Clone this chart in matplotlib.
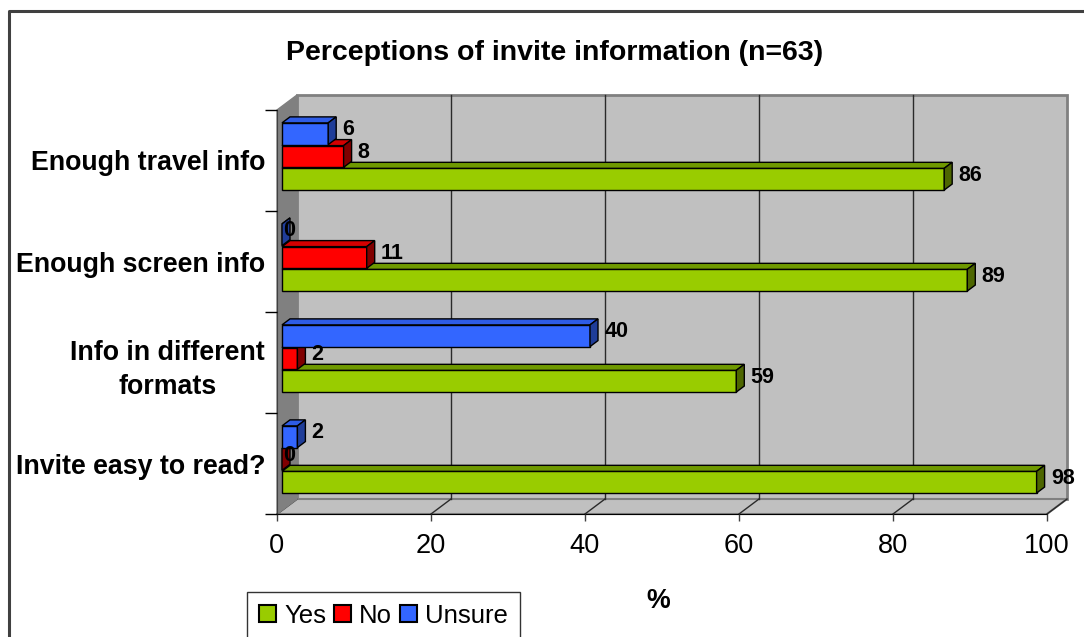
import matplotlib
matplotlib.use("Agg")
import matplotlib.pyplot as plt
from matplotlib.patches import Polygon, Patch
from matplotlib.lines import Line2D

plt.rcParams['font.family'] = ['Liberation Sans', 'DejaVu Sans']

categories = ["Invite easy to read?", "Info in different\nformats",
              "Enough screen info", "Enough travel info"]
series_names = ["Yes", "No", "Unsure"]
yes_vals = [98, 59, 89, 86]
no_vals = [0, 2, 11, 8]
unsure_vals = [2, 40, 0, 6]
xticks = [0, 20, 40, 60, 80, 100]
title = "Perceptions of invite information (n=63)"

front_cols = ["#99CC00", "#FF0000", "#3366FF"]
top_cols = ["#6F9900", "#D40000", "#2E5CE6"]
side_cols = ["#4D6600", "#800000", "#1F3D99"]
offsets = [-0.185, 0.04, 0.265]
bar_h = 0.215

W, H = 1084, 637
fig = plt.figure(figsize=(W / 100, H / 100), dpi=100)
ax = fig.add_axes([277 / W, (H - 514) / H, 770 / W, 404 / H])
ax.set_xlim(0, 100)
ax.set_ylim(-0.5, 3.5)
ax.set_facecolor("none")

# wall geometry in data units
wdx, wdy = 20 / 7.7, 15 / 101
ymin, ymax = -0.5, 3.5

# back wall
ax.add_patch(Polygon([(wdx, ymin + wdy), (100 + wdx, ymin + wdy),
                      (100 + wdx, ymax + wdy), (wdx, ymax + wdy)],
                     closed=True, facecolor="#C0C0C0", edgecolor="#808080",
                     lw=2, clip_on=False, zorder=0.5))
# floor
ax.add_patch(Polygon([(0, ymin), (100, ymin), (100 + wdx, ymin + wdy), (wdx, ymin + wdy)],
                     closed=True, facecolor="#C0C0C0", edgecolor="#808080",
                     lw=1.5, clip_on=False, zorder=0.6))
# gridlines on back wall and floor
for t in xticks[1:-1]:
    ax.plot([t + wdx, t + wdx], [ymin + wdy, ymax + wdy], color="#2A2A2A", lw=1,
            clip_on=False, zorder=0.7)
for t in xticks:
    ax.plot([t, t + wdx], [ymin, ymin + wdy], color="#2A2A2A", lw=1,
            clip_on=False, zorder=0.7)
# left wall
ax.add_patch(Polygon([(0, ymin), (wdx, ymin + wdy), (wdx, ymax + wdy), (0, ymax)],
                     closed=True, facecolor="#808080", edgecolor="#808080",
                     lw=1, clip_on=False, zorder=0.8))

# bars
x0 = 5 / 7.7
bdx, bdy = 8 / 7.7, 6 / 101
all_vals = [yes_vals, no_vals, unsure_vals]
for s, vals in enumerate(all_vals):
    ys = [i + offsets[s] for i in range(len(categories))]
    ax.barh(ys, vals, height=bar_h, left=x0, color=front_cols[s],
            edgecolor="black", lw=1, zorder=3 + s, clip_on=False)
    for y, v in zip(ys, vals):
        yt, yb = y + bar_h / 2, y - bar_h / 2
        ax.add_patch(Polygon([(x0, yt), (x0 + v, yt), (x0 + v + bdx, yt + bdy), (x0 + bdx, yt + bdy)],
                             closed=True, facecolor=top_cols[s], edgecolor="black",
                             lw=1, zorder=3 + s, clip_on=False))
        ax.add_patch(Polygon([(x0 + v, yb), (x0 + v + bdx, yb + bdy), (x0 + v + bdx, yt + bdy), (x0 + v, yt)],
                             closed=True, facecolor=side_cols[s], edgecolor="black",
                             lw=1, zorder=3 + s, clip_on=False))
        lx = x0 + v + bdx + 0.8 if v > 0 else x0 + 0.2
        ax.text(lx, y + 0.04, f"{v}", ha="left", va="center", fontsize=15.5,
                fontweight="bold", zorder=10)

# axes styling
for sp in ["top", "right"]:
    ax.spines[sp].set_visible(False)
ax.spines["left"].set_color("#404040")
ax.spines["left"].set_zorder(1)
ax.spines["bottom"].set_color("black")
ax.spines["bottom"].set_zorder(1)
ax.set_xticks(xticks)
ax.set_xticklabels([str(t) for t in xticks], fontsize=19.6)
ax.tick_params(axis="x", direction="out", length=5, width=1, color="#404040", pad=8.5)
ax.set_yticks([-0.5, 0.5, 1.5, 2.5, 3.5])
ax.set_yticklabels([])
ax.tick_params(axis="y", which="major", direction="out", length=8.6, width=1, color="black")
ax.set_yticks(range(len(categories)), minor=True)
ax.set_yticklabels(categories, minor=True, fontsize=19.3, fontweight="bold",
                   multialignment="center", linespacing=1.4)
ax.tick_params(axis="y", which="minor", length=0, pad=8.6)

# title and axis label
fig.text(554.5 / W, 1 - 53 / H, title, ha="center", va="center", fontsize=20.5,
         fontweight="bold")
fig.text(658 / W, 1 - 601 / H, "%", ha="center", va="center", fontsize=19.3,
         fontweight="bold")

# legend
handles = [Patch(facecolor=c, edgecolor="black", lw=1.5) for c in front_cols]
leg = fig.legend(handles, series_names, loc="upper left",
                 bbox_to_anchor=(247 / W, 1 - 592 / H), borderaxespad=0,
                 ncol=3, fontsize=18.5, handlelength=0.66, handleheight=0.66,
                 handletextpad=0.33, columnspacing=0.3, borderpad=0.45,
                 fancybox=False, frameon=True)
leg.get_frame().set_edgecolor("black")
leg.get_frame().set_linewidth(1)

# chart border
fig.add_artist(Line2D([8.5 / W, 8.5 / W, 1.0], [0.0, 1 - 11 / H, 1 - 11 / H],
                      transform=fig.transFigure, color="#404040", lw=2.2))

fig.savefig("out.png", dpi=100)
